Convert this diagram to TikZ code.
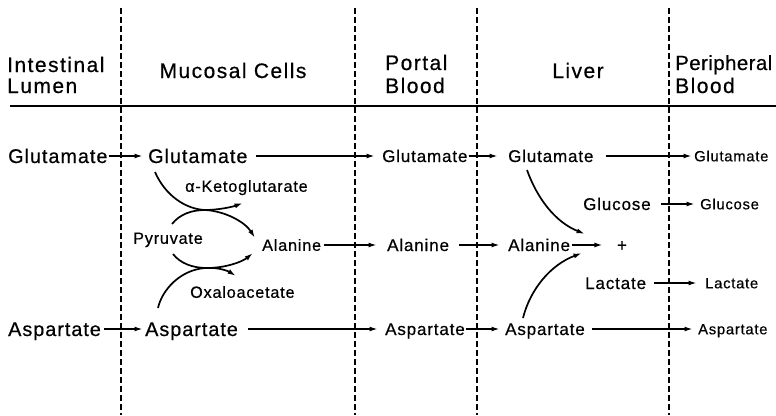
\documentclass[tikz,border=0pt]{standalone}
\usepackage{fontspec}
\setmainfont{Liberation Sans}[LetterSpace=5,FakeBold=0.5]
\newfontfamily\hdrfont{Liberation Sans}[LetterSpace=7,FakeBold=0.5]
\newfontfamily\hdrtight{Liberation Sans}[LetterSpace=2,FakeBold=0.5]
\usetikzlibrary{arrows.meta}
\begin{document}
\begin{tikzpicture}[x=1pt,y=-1pt,
  lbl/.style={inner sep=0pt,anchor=west,text depth=0pt},
  big/.style={lbl,font=\fontsize{19.8}{22}\selectfont,text height=14pt},
  mid/.style={lbl,font=\fontsize{17}{19}\selectfont,text height=12pt},
  sml/.style={lbl,font=\fontsize{16.2}{18}\selectfont,text height=11.6pt},
  tny/.style={lbl,font=\fontsize{14.8}{16}\selectfont,text height=10.6pt},
  hdr/.style={inner sep=0pt,anchor=base west,font=\hdrfont\fontsize{21}{22}\selectfont},
  arr/.style={line width=1.7pt,-{Latex[length=8.5pt,width=5pt]}},
  sep/.style={line width=1.7pt,dash pattern=on 6pt off 3pt},
  rule/.style={line width=2pt}]
\fill[white] (0,0) rectangle (776,415);
\useasboundingbox (0,0) rectangle (776,415);

% header
\node[hdr] (h1a) at (7,72) {Intestinal};
\node[hdr] (h1b) at (7,93) {Lumen};
\node[hdr,anchor=base] (h2) at (233,78) {Mucosal Cells};
\node[hdr] (h3a) at (385,70) {Portal};
\node[hdr] (h3b) at (385,93) {Blood};
\node[hdr,anchor=base] (h4) at (578,78) {Liver};
\node[hdr,font=\hdrtight\fontsize{20.5}{22}\selectfont] (h5a) at (675,70) {Peripheral};
\node[hdr] (h5b) at (675,93) {Blood};

\coordinate (rl) at (10,106);
\coordinate (rr) at (776,106);
\draw[rule] (rl) -- (rr);

% separators
\foreach \x/\n in {121/s1,355/s2,477/s3,669/s4}{
  \coordinate (\n t) at (\x,8);
  \coordinate (\n b) at (\x,415);
  \draw[sep] (\n t) -- (\n b);
}

% glutamate row
\node[big] (gL) at (8,156) {Glutamate};
\node[big] (gM) at (148,156) {Glutamate};
\node[mid] (gP) at (382,156) {Glutamate};
\node[mid] (gV) at (508,156) {Glutamate};
\node[tny] (gR) at (694,156) {Glutamate};

% mucosal side labels
\node[sml] (akg) at (185,186) {α-Ketoglutarate};
\node[sml] (pyr) at (133,238) {Pyruvate};
\node[sml] (oaa) at (190,292) {Oxaloacetate};

% glucose
\node[mid] (glcV) at (583,204) {Glucose};
\node[tny] (glcR) at (700,204) {Glucose};

% alanine row
\node[sml] (aM) at (262,245) {Alanine};
\node[mid] (aP) at (387,245) {Alanine};
\node[mid] (aV) at (508,245) {Alanine};
\node[mid,anchor=center] (plus) at (622,245) {+};

% lactate
\node[mid] (lacV) at (585,283) {Lactate};
\node[tny] (lacR) at (705,283) {Lactate};

% aspartate row
\node[big] (asL) at (8,329) {Aspartate};
\node[big] (asM) at (145,329) {Aspartate};
\node[mid] (asP) at (385,329) {Aspartate};
\node[mid] (asV) at (505,329) {Aspartate};
\node[tny] (asR) at (698,329) {Aspartate};

% straight arrows
\draw[arr,shorten <=1pt,shorten >=5pt] (gL) -- (gM);
\draw[arr,shorten <=8pt,shorten >=7pt] (gM) -- (gP);
\draw[arr,shorten <=1pt,shorten >=10pt] (gP) -- (gV);
\draw[arr,shorten <=12pt,shorten >=2pt] (gV) -- (gR);
\draw[arr,shorten <=10pt,shorten >=5pt] (glcV) -- (glcR);
\draw[arr,shorten <=3pt,shorten >=10pt] (aM) -- (aP);
\draw[arr,shorten <=10pt,shorten >=8pt] (aP) -- (aV);
\draw[arr,shorten <=2pt,shorten >=14pt] (aV.east) -- (plus.west);
\draw[arr,shorten <=8pt,shorten >=8pt] (lacV) -- (lacR);
\draw[arr,shorten <=3pt,shorten >=2pt] (asL) -- (asM);
\draw[arr,shorten <=10pt,shorten >=7pt] (asM) -- (asP);
\draw[arr,shorten <=1pt,shorten >=5pt] (asP) -- (asV);
\draw[arr,shorten <=7pt,shorten >=5pt] (asV) -- (asR);

% mucosal transamination curves
\coordinate (c1s) at (155,172);
\coordinate (c1e) at (255,238);
\coordinate (c2s) at (172,224);
\coordinate (c2e) at (243,203);
\coordinate (c3s) at (173,254);
\coordinate (c3e) at (253,253);
\coordinate (c4s) at (158,308);
\coordinate (c4e) at (236,276);
\draw[arr] (c1s) .. controls (165,195) and (185,209) .. (205,210)
  .. controls (225,211) and (245,222) .. (c1e);
\draw[arr] (c2s) .. controls (180,214) and (192,210) .. (205,210)
  .. controls (218,210) and (232,207) .. (c2e);
\draw[arr] (c3s) .. controls (180,263) and (192,268) .. (207,268)
  .. controls (225,268) and (242,262) .. (c3e);
\draw[arr] (c4s) .. controls (162,290) and (180,270) .. (205,268)
  .. controls (218,267) and (228,271) .. (c4e);

% liver curves
\coordinate (l1s) at (527,170);
\coordinate (l1e) at (585,234);
\coordinate (l2s) at (523,318);
\coordinate (l2e) at (582,253);
\draw[arr] (l1s) .. controls (537,198) and (555,222) .. (l1e);
\draw[arr] (l2s) .. controls (530,290) and (550,265) .. (l2e);
\end{tikzpicture}
\end{document}
